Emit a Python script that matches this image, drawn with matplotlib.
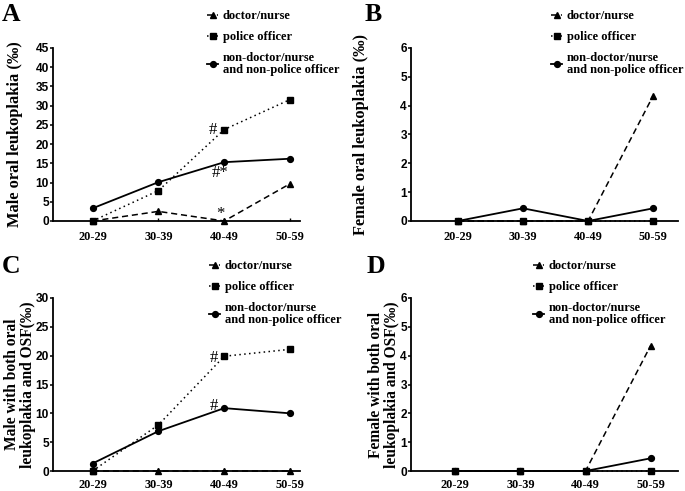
import matplotlib
matplotlib.use('Agg')
import matplotlib.pyplot as plt
import numpy as np

age_groups = ['20-29', '30-39', '40-49', '50-59']
series_names = ['doctor/nurse', 'police officer', 'non-doctor/nurse\nand non-police officer']

# panel A: male oral leukoplakia
a_doctor = [0, 2.5, 0, 9.7]
a_police = [0, 7.9, 23.8, 31.6]
a_other = [3.3, 10.1, 15.3, 16.2]

# panel B: female oral leukoplakia
b_doctor = [0, 0, 0, 4.35]
b_police = [0, 0, 0, 0]
b_other = [0, 0.44, 0, 0.44]

# panel C: male with both oral leukoplakia and OSF
c_doctor = [0, 0, 0, 0]
c_police = [0, 8.0, 19.9, 21.1]
c_other = [1.3, 6.9, 10.9, 10.0]

# panel D: female with both oral leukoplakia and OSF
d_doctor = [0, 0, 0, 4.35]
d_police = [0, 0, 0, 0]
d_other = [0, 0, 0, 0.44]

SERIF = 'Liberation Serif'
SANS = 'Liberation Sans'
W, H = 685, 491

fig = plt.figure(figsize=(6.85, 4.91), dpi=100)


def px_axes(x0, y0, x1, y1):
    # pixel box (top-left origin) -> figure fraction
    return fig.add_axes([x0 / W, 1 - y1 / H, (x1 - x0) / W, (y1 - y0) / H])


def draw_panel(ax, doctor, police, other, ymax, ystep, xlim, ylabel, label_x, label_size,
               letter, letter_xy, leg_xy, xpad):
    x = np.arange(len(age_groups))
    ms = 4.2
    lw = 1.1
    ax.plot(x, doctor, linestyle=(0, (4, 2.5)), color='black', lw=lw, marker='^', ms=ms,
            label=series_names[0], clip_on=False, zorder=3)
    ax.plot(x, police, linestyle=(0, (1, 2.2)), color='black', lw=lw, marker='s', ms=ms,
            label=series_names[1], clip_on=False, zorder=3)
    ax.plot(x, other, linestyle='-', color='black', lw=1.3, marker='o', ms=ms,
            label=series_names[2], clip_on=False, zorder=3)

    ax.set_xlim(*xlim)
    ax.set_ylim(0, ymax)
    ax.set_yticks(np.arange(0, ymax + ystep / 2, ystep))
    ax.set_xticks(x)
    ax.set_xticklabels(age_groups, fontfamily=SERIF, fontweight='bold', fontsize=8.8)
    for lab in ax.get_yticklabels():
        lab.set_fontfamily(SANS)
        lab.set_fontweight('bold')
        lab.set_fontsize(8.6)
    ax.tick_params(axis='y', direction='out', length=2.5, width=1.1, pad=0.5)
    ax.tick_params(axis='x', direction='in', length=2, width=1, pad=xpad)
    for side in ['top', 'right']:
        ax.spines[side].set_visible(False)
    for side in ['left', 'bottom']:
        ax.spines[side].set_linewidth(1.3)
    ax.set_ylabel(ylabel, fontfamily=SERIF, fontweight='bold', fontsize=label_size,
                  linespacing=1.05)
    # label_x is where the right edge of the rotated label sits
    ax.yaxis.set_label_coords(label_x, 0.5)

    fig.text(letter_xy[0] / W, 1 - letter_xy[1] / H, letter, fontfamily=SERIF,
             fontweight='bold', fontsize=18.5, va='top', ha='left')

    leg = ax.legend(loc='upper left', bbox_to_anchor=(leg_xy[0] / W, 1 - leg_xy[1] / H),
                    bbox_transform=fig.transFigure, frameon=False, handlelength=0.9,
                    handletextpad=0.35, borderpad=0, borderaxespad=0, labelspacing=0.72,
                    prop={'family': SERIF, 'weight': 'bold', 'size': 9})
    for t in leg.get_texts():
        t.set_linespacing(1.0)


ax_a = px_axes(53, 48, 300, 221)
draw_panel(ax_a, a_doctor, a_police, a_other, 45, 5, (-0.6, 3.15),
           'Male oral leukoplakia (‰)', -0.121, 11.8, 'A', (2, 3), (207, 10), 7.5)
ax_a.text(1.83, 23.8, '#', fontfamily=SERIF, fontsize=12, ha='center', va='center')
ax_a.text(1.94, 12.4, '#*', fontfamily=SERIF, fontsize=12, ha='center', va='center')
ax_a.text(1.94, 1.7, '*', fontfamily=SERIF, fontsize=12, ha='center', va='center')

ax_b = px_axes(411, 48, 678, 221)
draw_panel(ax_b, b_doctor, b_police, b_other, 6, 1, (-0.72, 3.38),
           'Female oral leukoplakia (‰)', -0.157, 11.8, 'B', (365, 3), (551, 10), 7.5)

ax_c = px_axes(53, 298, 300, 471)
draw_panel(ax_c, c_doctor, c_police, c_other, 30, 5, (-0.6, 3.15),
           'Male with both oral\nleukoplakia and OSF(‰)', -0.068, 11.2, 'C', (2, 255), (209, 260), 5.5)
ax_c.text(1.85, 19.6, '#', fontfamily=SERIF, fontsize=12, ha='center', va='center')
ax_c.text(1.85, 11.3, '#', fontfamily=SERIF, fontsize=12, ha='center', va='center')

ax_d = px_axes(411, 298, 678, 471)
draw_panel(ax_d, d_doctor, d_police, d_other, 6, 1, (-0.68, 3.42),
           'Female with both oral\nleukoplakia and OSF(‰)', -0.04, 11.2, 'D', (367, 255), (533, 260), 5.5)

fig.savefig('out.png', dpi=100)
